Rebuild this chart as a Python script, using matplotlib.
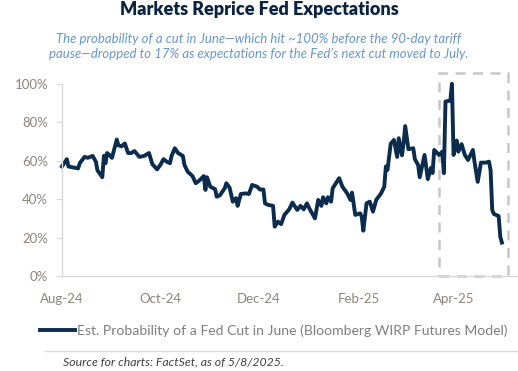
import pandas as pd
import matplotlib
matplotlib.use("Agg")
from matplotlib import pyplot as plt
from matplotlib.patches import Rectangle
import matplotlib.dates as mdates
from matplotlib.ticker import FuncFormatter

plt.rcParams['font.family'] = ['Lato', 'DejaVu Sans']

# estimated probability of a June cut (%)
dates = ["2024-08-01", "2024-08-04", "2024-08-05", "2024-08-08", "2024-08-11", "2024-08-12",
         "2024-08-15", "2024-08-17", "2024-08-20", "2024-08-22", "2024-08-23", "2024-08-26",
         "2024-08-27", "2024-08-28", "2024-08-29", "2024-08-31", "2024-09-01", "2024-09-04",
         "2024-09-05", "2024-09-07", "2024-09-09", "2024-09-11", "2024-09-13", "2024-09-15",
         "2024-09-18", "2024-09-21", "2024-09-24", "2024-09-26", "2024-09-29", "2024-10-01",
         "2024-10-03", "2024-10-05", "2024-10-07", "2024-10-08", "2024-10-10", "2024-10-12",
         "2024-10-15", "2024-10-16", "2024-10-18", "2024-10-21", "2024-10-23", "2024-10-25",
         "2024-10-28", "2024-10-29", "2024-10-30", "2024-11-01", "2024-11-04", "2024-11-05",
         "2024-11-07", "2024-11-10", "2024-11-11", "2024-11-13", "2024-11-15", "2024-11-17",
         "2024-11-18", "2024-11-20", "2024-11-23", "2024-11-25", "2024-11-27", "2024-11-30",
         "2024-12-02", "2024-12-04", "2024-12-05", "2024-12-07", "2024-12-10", "2024-12-11",
         "2024-12-13", "2024-12-15", "2024-12-17", "2024-12-20", "2024-12-22", "2024-12-25",
         "2024-12-27", "2024-12-29", "2024-12-31", "2025-01-02", "2025-01-05", "2025-01-07",
         "2025-01-09", "2025-01-10", "2025-01-12", "2025-01-13", "2025-01-15", "2025-01-16",
         "2025-01-20", "2025-01-22", "2025-01-25", "2025-01-27", "2025-01-28", "2025-01-30",
         "2025-02-02", "2025-02-03", "2025-02-04", "2025-02-06", "2025-02-08", "2025-02-10",
         "2025-02-12", "2025-02-15", "2025-02-17", "2025-02-18", "2025-02-19", "2025-02-21",
         "2025-02-23", "2025-02-25", "2025-02-26", "2025-02-28", "2025-03-01", "2025-03-02",
         "2025-03-04", "2025-03-07", "2025-03-08", "2025-03-10", "2025-03-11", "2025-03-14",
         "2025-03-15", "2025-03-16", "2025-03-18", "2025-03-19", "2025-03-20", "2025-03-23",
         "2025-03-25", "2025-03-26", "2025-03-27", "2025-03-30", "2025-03-31", "2025-04-01",
         "2025-04-03", "2025-04-04", "2025-04-06", "2025-04-08", "2025-04-10", "2025-04-13",
         "2025-04-14", "2025-04-16", "2025-04-18", "2025-04-21", "2025-04-23", "2025-04-24",
         "2025-04-25", "2025-04-26", "2025-04-29", "2025-04-30", "2025-05-01"]
prob = [57, 60.8, 57, 56.5, 56, 58.7,
        62, 61.5, 62.5, 59.5, 55, 51.4,
        62.5, 58.7, 64, 62.5, 61.5, 71,
        68, 67.5, 69, 64, 64, 65,
        62, 62.5, 64, 58.3, 55.5, 57.8,
        60.8, 59.5, 58.7, 62.5, 66.5, 64,
        62.5, 57.8, 54.3, 52, 48.3, 49.5,
        52, 44.8, 51.4, 46.5, 45.2, 41.3,
        42, 45.7, 48.3, 46, 38.7, 40.5,
        36.5, 42.7, 43, 42.7, 47.4, 46.5,
        45, 45, 37.8, 37, 36.5, 25.7,
        28.3, 27, 31.8, 34.7, 38.2, 34.4,
        36.5, 34.7, 37.8, 34.4, 30, 39.6,
        36.5, 41, 37.8, 41, 38.7, 45.7,
        50.9, 46.5, 43, 39.6, 43.4, 31.8,
        32.6, 30.9, 23.6, 37.8, 38.7, 33.5,
        39.6, 43, 46.5, 57, 55.2, 68.8,
        70.8, 62, 71.7, 62.8, 69.3, 78,
        66, 66.5, 60.8, 57.8, 51.4, 63,
        57, 50.4, 56.3, 53.6, 65.6, 63,
        64.7, 53.5, 90.8, 91.3, 100, 63,
        70.5, 64.7, 68.6, 63, 60.4, 65.6,
        59.5, 49, 59, 59, 59.5, 55,
        34.4, 32.3, 31.2, 20.5, 17.4]

x = pd.to_datetime(dates)
navy = "#0b2c4d"

fig = plt.figure(figsize=(5.18, 3.71), dpi=100)
ax = fig.add_axes([0.1197, 0.256, 0.8803, 0.518])

ax.plot(x, prob, color=navy, lw=2.8, solid_joinstyle="round", clip_on=False,
        label="Est. Probability of a Fed Cut in June (Bloomberg WIRP Futures Model)")

ax.set_xlim(pd.Timestamp("2024-08-01"), pd.Timestamp("2025-05-11"))
ax.set_ylim(0, 100)
ax.set_yticks([0, 20, 40, 60, 80, 100])
ax.yaxis.set_major_formatter(FuncFormatter(lambda v, p: f"{v:.0f}%"))
ax.set_xticks(pd.to_datetime(["2024-08-01", "2024-10-01", "2024-12-01", "2025-02-01", "2025-04-01"]))
ax.xaxis.set_major_formatter(mdates.DateFormatter("%b-%y"))

for s in ["top", "right"]:
    ax.spines[s].set_visible(False)
for s in ["left", "bottom"]:
    ax.spines[s].set_color("#d9d9d9")
    ax.spines[s].set_linewidth(1)
ax.tick_params(axis="y", colors="#d9d9d9", labelcolor="#8c857d", labelsize=9.5, length=4, pad=6)
ax.tick_params(axis="x", length=0, labelcolor="#8c857d", labelsize=9.5, pad=12)

# dashed box around April
box_x0 = mdates.date2num(pd.Timestamp("2025-03-23"))
box_x1 = mdates.date2num(pd.Timestamp("2025-05-05"))
ax.add_patch(Rectangle((box_x0, 0), box_x1 - box_x0, 105.7, fill=False, edgecolor="#c8c8c8",
                       lw=1.8, ls=(0, (4, 3)), clip_on=False))

leg = ax.legend(loc="upper left", bbox_to_anchor=(-0.048, -0.25), frameon=False, fontsize=10.1,
                handlelength=2.5, handletextpad=0.15, borderaxespad=0, borderpad=0)
for t in leg.get_texts():
    t.set_color("#7f7f7f")

fig.text(0.5, 0.998, "Markets Reprice Fed Expectations", ha="center", va="top",
         fontsize=13, fontweight="heavy", color="#0a2342")
fig.text(0.5, 0.91, "The probability of a cut in June\u2014which hit ~100% before the 90-day tariff\n"
         "pause\u2014dropped to 17% as expectations for the Fed\u2019s next cut moved to July.",
         ha="center", va="top", fontsize=9.45, style="italic", color="#6796d0", linespacing=1.25)

fig.add_artist(plt.Line2D([0.087, 1.0], [0.053, 0.053], transform=fig.transFigure,
                          color="#d9d9d9", lw=1))
fig.text(0.122, 0.025, "Source for charts: FactSet, as of 5/8/2025.", ha="left", va="center",
         fontsize=8.8, style="italic", color="#404040")

fig.savefig("out.png", dpi=100)
